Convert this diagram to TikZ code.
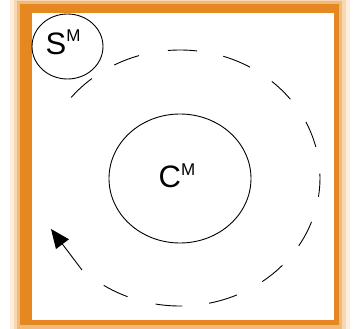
\documentclass[tikz,border=0pt]{standalone}
\usepackage{fontspec}
\setmainfont{Liberation Sans}
\usetikzlibrary{shapes.geometric,arrows.meta}
\definecolor{frameor}{RGB}{229,136,34}
\definecolor{glowA}{RGB}{240,186,120}
\definecolor{glowB}{RGB}{248,216,178}
\definecolor{glowC}{RGB}{253,238,220}
\tikzset{
  body/.style={draw=black, line width=0.9pt, ellipse, inner sep=0pt},
  orbitdash/.style={draw=black, line width=0.9pt},
  biglabel/.style={inner sep=0pt, anchor=base west, font=\fontsize{31}{31}\selectfont}
}
\begin{document}
\begin{tikzpicture}[x=1pt,y=-1pt]
\useasboundingbox (0,0) rectangle (354,329);
% frame with soft glow
\fill[glowC] (10,0) rectangle (350,329);
\fill[glowB] (14,0) rectangle (346,329);
\fill[glowA] (17,1) rectangle (342,329);
\fill[frameor] (20,4) rectangle (339,325);
\fill[white] (32,13) rectangle (334,320);
% bodies
\node[body, minimum width=142pt, minimum height=129pt] (cm) at (180,178.5) {};
\node[body, minimum width=71pt, minimum height=65pt] (sm) at (67.5,46.5) {};
\node[biglabel] (cmlabel) at (158.5,187) {C\raisebox{12pt}{\fontsize{17}{17}\selectfont M}};
\node[biglabel] (smlabel) at (45.5,55) {S\raisebox{13pt}{\fontsize{17}{17}\selectfont M}};
% dashed orbit
\foreach \a/\b in {219/231, 242/253, 265/277, 288/300, 311/322, 334/346, -2/8.5, 20/32, 43/54, 66/78, 89/100, 112/123}{
  \draw[orbitdash] (180,178) ++(\a:140 and 128) arc[start angle=\a, end angle=\b, x radius=140, y radius=128];
}
% direction arrow
\coordinate (arrtail) at (82,270);
\coordinate (arrtip) at (51,229);
\draw[line width=0.9pt, -{Triangle[length=19pt,width=16pt]}] (arrtail) -- (arrtip);
\end{tikzpicture}
\end{document}
